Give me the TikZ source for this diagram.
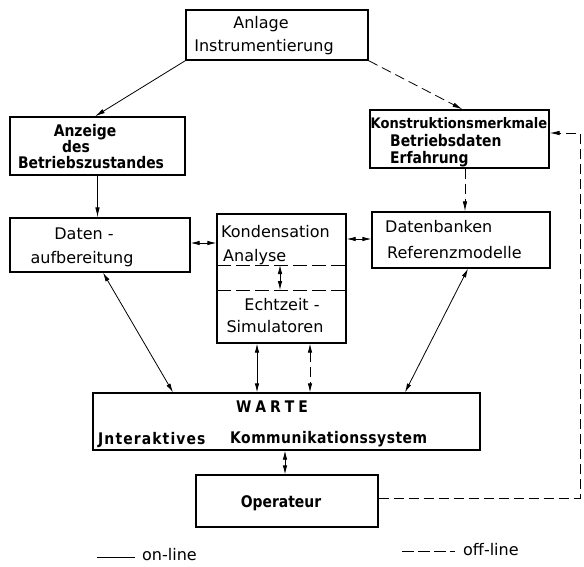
\documentclass[tikz,border=0pt]{standalone}
\usepackage{fontspec}
\setmainfont{DejaVu Sans}
\newfontfamily\bcond{DejaVu Sans}[FakeStretch=0.87]
\usetikzlibrary{arrows.meta}
\newcommand\fr{\fontsize{16}{19}\selectfont}
\newcommand\fb{\bcond\fontsize{16}{19}\selectfont\bfseries}
\begin{document}
\begin{tikzpicture}[x=1pt,y=-1pt,
  box/.style={draw, line width=1.3pt, inner sep=0pt},
  txt/.style={inner sep=0pt, anchor=base, font=\fr},
  txtl/.style={inner sep=0pt, anchor=base west, font=\fr},
  btxt/.style={inner sep=0pt, anchor=base, font=\fb},
  btxtl/.style={inner sep=0pt, anchor=base west, font=\fb},
  con/.style={line width=0.8pt, -{Latex[length=10pt,width=4.5pt]}},
  dcon/.style={line width=0.8pt, {Latex[length=9pt,width=4.5pt]}-{Latex[length=9pt,width=4.5pt]}},
  offl/.style={dash pattern=on 10pt off 5pt}
]
\useasboundingbox (0,0) rectangle (584,567);

% boxes
\node[box, minimum width=182pt, minimum height=50pt] (anlage) at (277,35) {};
\node[box, minimum width=175pt, minimum height=58pt] (anzeige) at (97.5,146) {};
\node[box, minimum width=179pt, minimum height=58pt] (konstr) at (459.5,139) {};
\node[box, minimum width=180pt, minimum height=54pt] (daten) at (100,245) {};
\node[box, minimum width=129pt, minimum height=129pt] (kond) at (281.5,278.5) {};
\node[box, minimum width=178pt, minimum height=56pt] (datenb) at (461,240) {};
\node[box, minimum width=387pt, minimum height=57pt] (warte) at (286.5,421.5) {};
\node[box, minimum width=182pt, minimum height=52pt] (oper) at (287,501) {};

% texts
\node[txt] (t1) at (261,29) {Anlage};
\node[txt] (t2) at (264,52) {Instrumentierung};
\node[btxt] (t3) at (85,137) {Anzeige};
\node[btxt] (t4) at (76,153) {des};
\node[btxt] (t5) at (91,168) {Betriebszustandes};
\node[btxt, font=\bcond\fontsize{14.5}{17}\selectfont\bfseries\addfontfeature{FakeStretch=0.9}] (t6) at (459,129) {Konstruktionsmerkmale};
\node[btxtl] (t7) at (390,147) {Betriebsdaten};
\node[btxtl] (t8) at (390,164) {Erfahrung};
\node[txt] (t9) at (84,239) {Daten -};
\node[txt] (t10) at (82,263) {aufbereitung};
\node[txtl] (t11) at (221,237) {Kondensation};
\node[txtl] (t12) at (223,261) {Analyse};
\node[txt] (t13) at (282,310) {Echtzeit -};
\node[txt] (t14) at (275,332) {Simulatoren};
\node[txtl] (t15) at (385,233) {Datenbanken};
\node[txtl] (t16) at (387,258) {Referenzmodelle};
\node[btxt] (t17) at (272,412) {W\hspace{4pt}A\hspace{4pt}R\hspace{4pt}T\hspace{4pt}E};
\node[btxtl, font=\fb\addfontfeature{LetterSpace=7}] (t18) at (98,444) {Jnteraktives};
\node[btxtl, font=\fb\addfontfeature{LetterSpace=3}] (t19) at (230,443) {Kommunikationssystem};
\node[btxt] (t20) at (281,507) {Operateur};
\node[txtl] (t21) at (142,560) {on-line};
\node[txtl] (t22) at (463,555) {off-line};

% inner dashed separators in kond
\coordinate (k1l) at (217,265);
\coordinate (k1r) at (346,265);
\coordinate (k2l) at (217,290);
\coordinate (k2r) at (346,290);
\draw[line width=0.9pt, dash pattern=on 14pt off 5pt] (k1l) -- (k1r);
\draw[line width=0.9pt, dash pattern=on 14pt off 5pt] (k2l) -- (k2r);
\coordinate (ka) at (280,265);
\coordinate (kb) at (280,290);
\draw[dcon] (ka) -- (kb);

% connectors
\draw[con] (anlage.south west) -- ([xshift=-2.5pt]anzeige.north);
\draw[con, offl] (anlage.south east) -- ([xshift=3pt]konstr.north);
\draw[con] (anzeige.south) -- ([xshift=-2.5pt]daten.north);
\draw[con, offl] ([xshift=5.5pt]konstr.south) -- ([xshift=4pt]datenb.north);
\draw[dcon] ([yshift=2pt]daten.east) -- (kond.west |- 0,243);
\draw[dcon] (kond.east |- 0,239) -- (datenb.west |- 0,239);
\draw[dcon] ([xshift=3pt]daten.south) -- ([xshift=-113.5pt]warte.north);
\draw[dcon] ([xshift=7pt]datenb.south) -- ([xshift=118.5pt]warte.north);
\draw[dcon] ([xshift=-24.5pt]kond.south) -- ([xshift=-29.5pt]warte.north);
\draw[dcon, offl] ([xshift=28.5pt]kond.south) -- ([xshift=23.5pt]warte.north);
\draw[dcon] ([xshift=-1.5pt]warte.south) -- ([xshift=-2pt]oper.north);
\coordinate (r1) at (580,498);
\coordinate (r2) at (580,133);
\draw[con, offl] (oper.east |- r1) -- (r1) -- (r2) -- (konstr.east |- r2);

% legend
\coordinate (l1) at (97,557);
\coordinate (l2) at (135,557);
\draw[line width=0.8pt] (l1) -- (l2);
\coordinate (l3) at (402,551);
\coordinate (l4) at (455,551);
\draw[line width=0.8pt, dash pattern=on 12pt off 4pt] (l3) -- (l4);
\end{tikzpicture}
\end{document}
